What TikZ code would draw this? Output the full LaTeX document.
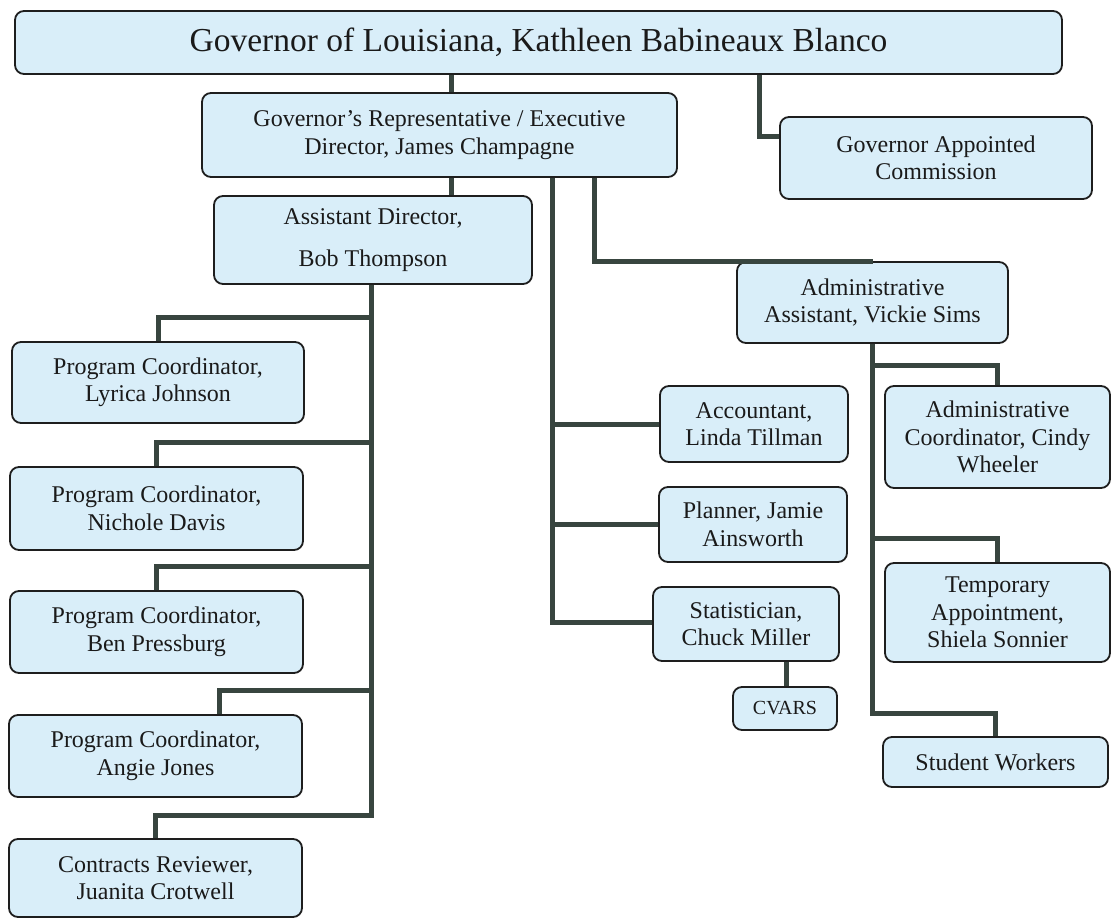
\documentclass[tikz,border=0pt]{standalone}
\usepackage{fontspec}
\setmainfont{Liberation Serif}
\definecolor{boxfill}{HTML}{D9EEF9}
\definecolor{linecol}{HTML}{38453F}
\definecolor{edgecol}{HTML}{1E1E1E}
\definecolor{txtcol}{HTML}{1A1A1A}
\tikzset{
  orgbox/.style={draw=edgecol, line width=1.8pt, rounded corners=9pt, fill=boxfill,
    align=center, text=txtcol, font=\fontsize{24}{27.5}\selectfont, inner sep=0pt},
  link/.style={draw=linecol, line width=5pt},
}
\begin{document}
\begin{tikzpicture}[x=1pt,y=-1pt]
\useasboundingbox (0,0) rectangle (1112,918);
\fill[white] (0,0) rectangle (1112,918);
% boxes
\node[orgbox, minimum width=1047pt, minimum height=63pt, font=\fontsize{33.5}{36}\selectfont] (gov) at (538.5,42.5) {Governor of Louisiana, Kathleen Babineaux Blanco};
\node[orgbox, minimum width=475pt, minimum height=84pt] (rep) at (439.5,135) {Governor’s Representative / Executive\\Director, James Champagne};
\node[orgbox, minimum width=312pt, minimum height=82pt] (comm) at (936,158) {Governor Appointed\\Commission};
\node[orgbox, minimum width=318pt, minimum height=88pt] (ad) at (373,240) {Assistant Director,\\[14pt]Bob Thompson};
\node[orgbox, minimum width=271pt, minimum height=81pt] (aa) at (872.5,302.5) {Administrative\\Assistant, Vickie Sims};
\node[orgbox, minimum width=292pt, minimum height=81pt] (lyrica) at (158,382.5) {Program Coordinator,\\Lyrica Johnson};
\node[orgbox, minimum width=293pt, minimum height=83pt] (nichole) at (156.5,508.5) {Program Coordinator,\\Nichole Davis};
\node[orgbox, minimum width=293pt, minimum height=82pt] (ben) at (156.5,632) {Program Coordinator,\\Ben Pressburg};
\node[orgbox, minimum width=293pt, minimum height=82pt] (angie) at (155.5,756) {Program Coordinator,\\Angie Jones};
\node[orgbox, minimum width=293pt, minimum height=78pt] (contracts) at (155.5,878) {Contracts Reviewer,\\Juanita Crotwell};
\node[orgbox, minimum width=188pt, minimum height=76pt] (acct) at (754,424) {Accountant,\\Linda Tillman};
\node[orgbox, minimum width=188pt, minimum height=75pt] (planner) at (753,524.5) {Planner, Jamie\\Ainsworth};
\node[orgbox, minimum width=186pt, minimum height=74pt] (stat) at (746,624) {Statistician,\\Chuck Miller};
\node[orgbox, minimum width=104pt, minimum height=43pt, font=\fontsize{20}{23}\selectfont] (cvars) at (785,708.5) {CVARS};
\node[orgbox, minimum width=225pt, minimum height=102pt] (acoord) at (997.5,437) {Administrative\\Coordinator, Cindy\\Wheeler};
\node[orgbox, minimum width=225pt, minimum height=99pt] (temp) at (997.5,612.5) {Temporary\\Appointment,\\Shiela Sonnier};
\node[orgbox, minimum width=225pt, minimum height=50pt] (student) at (995.5,762) {Student Workers};
% branch coordinates
\coordinate (gx) at (451,0);
\coordinate (cx) at (759,136);
\coordinate (sx) at (552,622);
\coordinate (ax) at (594,0);
\coordinate (cvx) at (786,0);
\coordinate (adx) at (371,815);
\coordinate (ly) at (371,317);
\coordinate (ni) at (371,442);
\coordinate (be) at (371,566);
\coordinate (an) at (371,690);
\coordinate (androp) at (219,690);
\coordinate (ssx) at (872.5,713);
\coordinate (b1) at (872.5,365);
\coordinate (b2) at (872.5,538);
% connectors
\draw[link] (gx |- gov.south) -- (gx |- rep.north);
\draw[link] (cx |- gov.south) -- (cx) -- (cx -| comm.west);
\draw[link] (gx |- rep.south) -- (gx |- ad.north);
\draw[link] (sx |- rep.south) -- (sx) -- (sx -| stat.west);
\draw[link] (sx |- acct.west) -- (acct.west);
\draw[link] (sx |- planner.west) -- (planner.west);
\draw[link] (ax |- rep.south) |- (aa.north);
\draw[link] (cvx |- stat.south) -- (cvx |- cvars.north);
\draw[link] (adx |- ad.south) -- (adx) -| (contracts.north);
\draw[link] (ly) -| (lyrica.north);
\draw[link] (ni) -| (nichole.north);
\draw[link] (be) -| (ben.north);
\draw[link] (an) -- (androp) -- (androp |- angie.north);
\draw[link] (ssx |- aa.south) -- (ssx) -| (student.north);
\draw[link] (b1) -| (acoord.north);
\draw[link] (b2) -| (temp.north);
\end{tikzpicture}
\end{document}
